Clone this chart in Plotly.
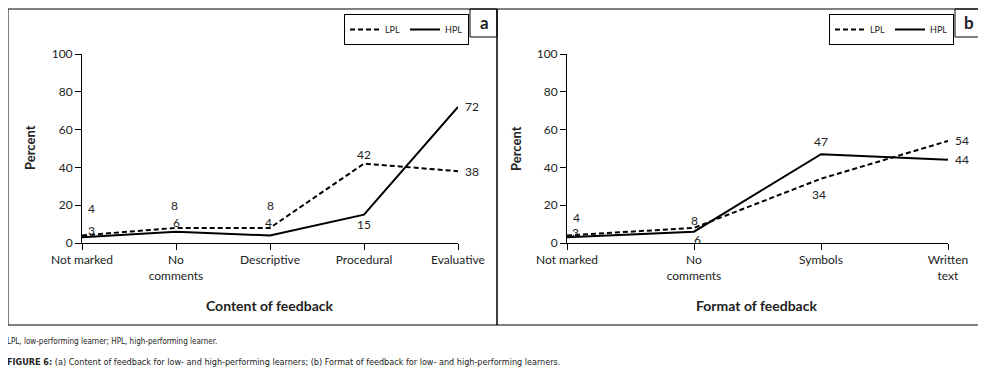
import plotly.graph_objects as go

W, H = 986, 377
FONT = "Lato"
OFF = 8  # page body margin compensation

# ---- data ----
content_cats = ["Not marked", "No<br>comments", "Descriptive", "Procedural", "Evaluative"]
content_lpl = [4, 8, 8, 42, 38]
content_hpl = [3, 6, 4, 15, 72]

format_cats = ["Not marked", "No<br>comments", "Symbols", "Written<br>text"]
format_lpl = [4, 8, 34, 54]
format_hpl = [3, 6, 47, 44]

y_ticks = [0, 20, 40, 60, 80, 100]

# label pixel offsets (dx, dy-up)
off_a_lpl = [(9, 27), (-2, 22), (0, 22), (0, 9), (14, 0)]
off_a_hpl = [(9, 7), (0, 9), (-2, 13), (0, -10), (14, 0)]
off_b_lpl = [(9, 18), (0, 7), (-2, -16), (14, 0)]
off_b_hpl = [(8, 5), (3, -8), (0, 13), (14, 0)]


def px(v):
    return (v - OFF) / W


def py(v):
    return 1 - (v - OFF) / H


fig = go.Figure()
dash = "5px,3px"
fig.add_trace(go.Scatter(x=content_cats, y=content_lpl, mode="lines", name="LPL",
                         line=dict(color="black", width=2, dash=dash), xaxis="x", yaxis="y", legend="legend"))
fig.add_trace(go.Scatter(x=content_cats, y=content_hpl, mode="lines", name="HPL",
                         line=dict(color="black", width=2), xaxis="x", yaxis="y", legend="legend"))
fig.add_trace(go.Scatter(x=format_cats, y=format_lpl, mode="lines", name="LPL",
                         line=dict(color="black", width=2, dash=dash), xaxis="x2", yaxis="y2", legend="legend2"))
fig.add_trace(go.Scatter(x=format_cats, y=format_hpl, mode="lines", name="HPL",
                         line=dict(color="black", width=2), xaxis="x2", yaxis="y2", legend="legend2"))

annotations = []
for cats, vals, offs, xr, yr in [
    (content_cats, content_lpl, off_a_lpl, "x", "y"),
    (content_cats, content_hpl, off_a_hpl, "x", "y"),
    (format_cats, format_lpl, off_b_lpl, "x2", "y2"),
    (format_cats, format_hpl, off_b_hpl, "x2", "y2"),
]:
    for c, v, (dx, dy) in zip(cats, vals, offs):
        annotations.append(dict(x=c, y=v, xref=xr, yref=yr, text=str(v), showarrow=False,
                                xanchor="center", yanchor="middle",
                                xshift=dx, yshift=dy, borderpad=0,
                                font=dict(size=12, color="#222", family=FONT)))


def paper_text(x, y, text, size, family=FONT, xanchor="center", angle=0):
    return dict(x=px(x), y=py(y), xref="paper", yref="paper", text=text, textangle=angle,
                xanchor=xanchor, yanchor="middle", showarrow=False,
                font=dict(size=size, color="#222", family=family))


annotations += [
    paper_text(270, 305, "<b>Content of feedback</b>", 14),
    paper_text(756, 305, "<b>Format of feedback</b>", 14),
    paper_text(30, 148, "<b>Percent</b>", 13, angle=-90),
    paper_text(516, 148, "<b>Percent</b>", 13, angle=-90),
    paper_text(484, 22, "<b>a</b>", 17),
    paper_text(969, 22, "<b>b</b>", 17),
    paper_text(5, 341, "LPL, low-performing learner; HPL, high-performing learner.", 8,
               family="DejaVu Sans Condensed", xanchor="left"),
    paper_text(5, 362, "<b>FIGURE 6:</b> (a) Content of feedback for low- and high-performing learners; "
               "(b) Format of feedback for low- and high-performing learners.", 9,
               family="DejaVu Sans Condensed", xanchor="left"),
]

shapes = [
    dict(type="rect", xref="paper", yref="paper", x0=px(8), x1=px(497), y0=py(9), y1=py(325),
         line=dict(color="black", width=1)),
    dict(type="rect", xref="paper", yref="paper", x0=px(497), x1=px(982), y0=py(9), y1=py(325),
         line=dict(color="black", width=1)),
    dict(type="rect", xref="paper", yref="paper", x0=px(470), x1=px(497), y0=py(9), y1=py(37),
         line=dict(color="black", width=1)),
    dict(type="rect", xref="paper", yref="paper", x0=px(955), x1=px(982), y0=py(9), y1=py(37),
         line=dict(color="black", width=1)),
]

axis_common = dict(showline=True, linecolor="black", linewidth=1, ticks="outside", ticklen=6,
                   tickcolor="black", showgrid=False, zeroline=False, automargin=False,
                   tickfont=dict(size=12, color="#222", family=FONT), fixedrange=True)

legend_common = dict(orientation="h", bordercolor="black", borderwidth=1, bgcolor="white",
                     font=dict(size=9, color="#222", family=FONT), xanchor="left", yanchor="top",
                     itemwidth=30, tracegroupgap=0)

fig.update_layout(
    template="none",
    width=W, height=H, margin=dict(l=0, r=0, t=0, b=0, pad=0, autoexpand=False),
    paper_bgcolor="white", plot_bgcolor="white",
    showlegend=True,
    xaxis=dict(domain=[px(82), px(458)], range=[0, 4], anchor="y", type="category", **axis_common),
    yaxis=dict(domain=[py(243), py(54)], range=[0, 100], anchor="x", tickvals=y_ticks, **axis_common),
    xaxis2=dict(domain=[px(567), px(948)], range=[0, 3], anchor="y2", type="category", **axis_common),
    yaxis2=dict(domain=[py(243), py(54)], range=[0, 100], anchor="x2", tickvals=y_ticks, **axis_common),
    legend=dict(x=px(344), y=py(14), **legend_common),
    legend2=dict(x=px(829), y=py(14), **legend_common),
    annotations=annotations,
    shapes=shapes,
)

fig.write_html("out.html")
